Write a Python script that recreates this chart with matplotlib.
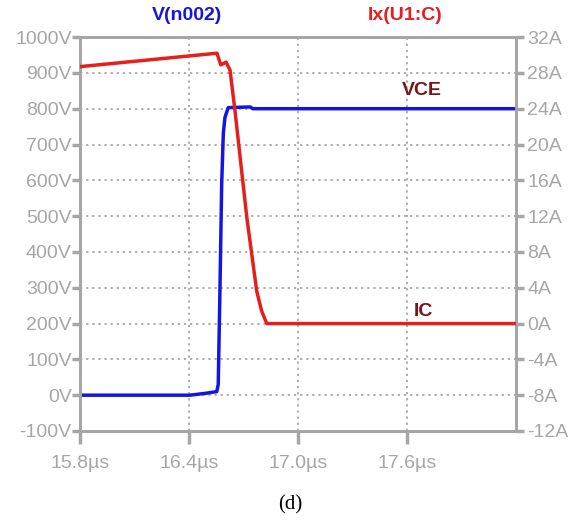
import matplotlib.pyplot as plt

# Collector-emitter voltage V(n002), in volts
vce_t = [15.8, 16.405, 16.488, 16.553, 16.561, 16.571, 16.58, 16.589,
         16.598, 16.616, 16.736, 16.752, 18.2]
vce_v = [0, 0, 5, 10, 30, 311, 591, 731, 776, 803, 805, 800, 800]

# Collector current Ix(U1:C), in amps
ic_t = [15.8, 16.554, 16.575, 16.604, 16.626, 16.653, 16.718, 16.773,
        16.800, 16.828, 18.2]
ic_a = [28.7, 30.2, 28.9, 29.2, 28.3, 23.8, 11.9, 3.6, 1.4, 0.0, 0.0]

v_ticks = list(range(-100, 1001, 100))
a_ticks = list(range(-12, 33, 4))
t_ticks = [15.8, 16.4, 17.0, 17.6]

font = 'Liberation Sans'
grey = '#a6a6a6'

fig = plt.figure(figsize=(5.78, 5.3), dpi=100)
ax = fig.add_axes([0.1384, 0.1868, 0.7543, 0.7432])
ax2 = ax.twinx()

ax.set_xlim(15.8, 18.2)
ax.set_ylim(-100, 1000)
ax2.set_ylim(-12, 32)

ax.set_xticks(t_ticks)
ax.set_xticklabels([f'{t:.1f}µs' for t in t_ticks])
ax.set_yticks(v_ticks)
ax.set_yticklabels([f'{v}V' for v in v_ticks])
ax2.set_yticks(a_ticks)
ax2.set_yticklabels([f'{a}A' for a in a_ticks])

for a in (ax, ax2):
    for s in a.spines.values():
        s.set_color(grey)
        s.set_linewidth(2)
    a.tick_params(colors=grey, width=2.5, labelsize=14)
    for lab in a.get_xticklabels() + a.get_yticklabels():
        lab.set_family(font)
        lab.set_color(grey)
ax.tick_params(axis='y', length=6, pad=0)
ax2.tick_params(axis='y', length=6, pad=2)
ax.tick_params(axis='x', length=9, pad=8)

ax.grid(True, color='#999999', linestyle=(0, (1.5, 2.5)), linewidth=1.1)
ax.set_axisbelow(True)

ax.plot(vce_t, vce_v, color='#1414e6', linewidth=2.5, zorder=3)
ax2.plot(ic_t, ic_a, color='#e61e1e', linewidth=2.5, zorder=3)

ax.text(17.68, 851, 'VCE', color='#7a1418', fontsize=14, fontweight='bold',
        family=font, ha='center', va='center')
ax2.text(17.69, 1.4, 'IC', color='#7a1418', fontsize=14, fontweight='bold',
         family=font, ha='center', va='center')

fig.text(187 / 578, 1 - 15 / 530, 'V(n002)', color='#1414e6', fontsize=14,
         fontweight='bold', family=font, ha='center', va='center')
fig.text(405 / 578, 1 - 15 / 530, 'Ix(U1:C)', color='#e61e1e', fontsize=14,
         fontweight='bold', family=font, ha='center', va='center')
fig.text(290 / 578, 1 - 505 / 530, '(d)', color='black', fontsize=15,
         family='Liberation Serif', ha='center', va='center')

fig.savefig('out.png', dpi=100)
